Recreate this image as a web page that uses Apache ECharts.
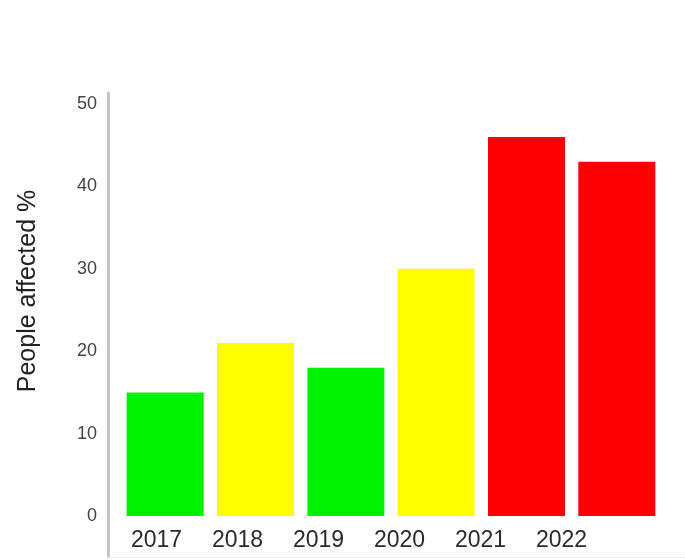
<!DOCTYPE html>
<html>
<head>
<meta charset="utf-8">
<script src="https://cdn.jsdelivr.net/npm/echarts@6/dist/echarts.min.js"></script>
<style>
    html, body { margin: 0; padding: 0; background: #fff; }
    #chart { width: 685px; height: 560px; }
</style>
</head>
<body>
<div id="chart"></div>
<script>
// values
const years = ['2017', '2018', '2019', '2020', '2021', '2022'];
const affected = [15, 21, 18, 30, 46, 43];
const yTicks = [0, 10, 20, 30, 40, 50];

const barColors = ['#00f000', '#ffff00', '#00f000', '#ffff00', '#ff0000', '#ff0000'];

function getBarChartOption() {
    const option = {
        animation: false,
        textStyle: { fontFamily: 'Liberation Sans, Arial, sans-serif' },
        grid: [
            // bars
            { left: 120, width: 542, top: 104, bottom: 44 },
            // long axis line + faint bottom line
            { left: 108, right: 0, top: 93, bottom: 3 },
            // year labels (they sit a bit off the bars in the original)
            { left: 116, width: 486, top: 520, height: 1 },
        ],
        xAxis: [
            {
                type: 'category',
                gridIndex: 0,
                data: years,
                axisLine: { show: false },
                axisTick: { show: false },
                axisLabel: { show: false },
            },
            {
                type: 'value',
                gridIndex: 1,
                axisLine: { show: true, onZero: false, lineStyle: { color: '#ececec', width: 1 } },
                axisTick: { show: false },
                axisLabel: { show: false },
                splitLine: { show: false },
            },
            {
                type: 'category',
                gridIndex: 2,
                data: years,
                axisLine: { show: false },
                axisTick: { show: false },
                axisLabel: {
                    margin: 8,
                    fontSize: 23,
                    color: '#2a2a2a',
                },
            },
        ],
        yAxis: [
            {
                type: 'value',
                gridIndex: 0,
                min: yTicks[0],
                max: yTicks[yTicks.length - 1],
                interval: 10,
                axisLine: { show: false },
                axisTick: { show: false },
                splitLine: { show: false },
                axisLabel: {
                    margin: 23,
                    fontSize: 18,
                    color: '#444',
                },
            },
            {
                type: 'value',
                gridIndex: 1,
                axisLine: { show: true, onZero: false, lineStyle: { color: '#c4c4c4', width: 3 } },
                axisTick: { show: false },
                axisLabel: { show: false },
                splitLine: { show: false },
            },
            {
                type: 'value',
                gridIndex: 2,
                show: false,
            },
        ],
        graphic: [
            {
                type: 'text',
                x: 28,
                y: 291,
                rotation: Math.PI / 2,
                style: {
                    text: 'People affected %',
                    fontSize: 25,
                    fontFamily: 'Liberation Sans, Arial, sans-serif',
                    fill: '#222',
                    align: 'center',
                    verticalAlign: 'middle',
                },
            },
        ],
        series: [
            {
                type: 'bar',
                xAxisIndex: 0,
                yAxisIndex: 0,
                barWidth: 77,
                data: affected.map((v, i) => ({
                    value: v,
                    itemStyle: { color: barColors[i] },
                })),
            },
        ],
    };

    return option;
}

const chart = echarts.init(document.getElementById('chart'));
chart.setOption(getBarChartOption());
</script>
</body>
</html>
